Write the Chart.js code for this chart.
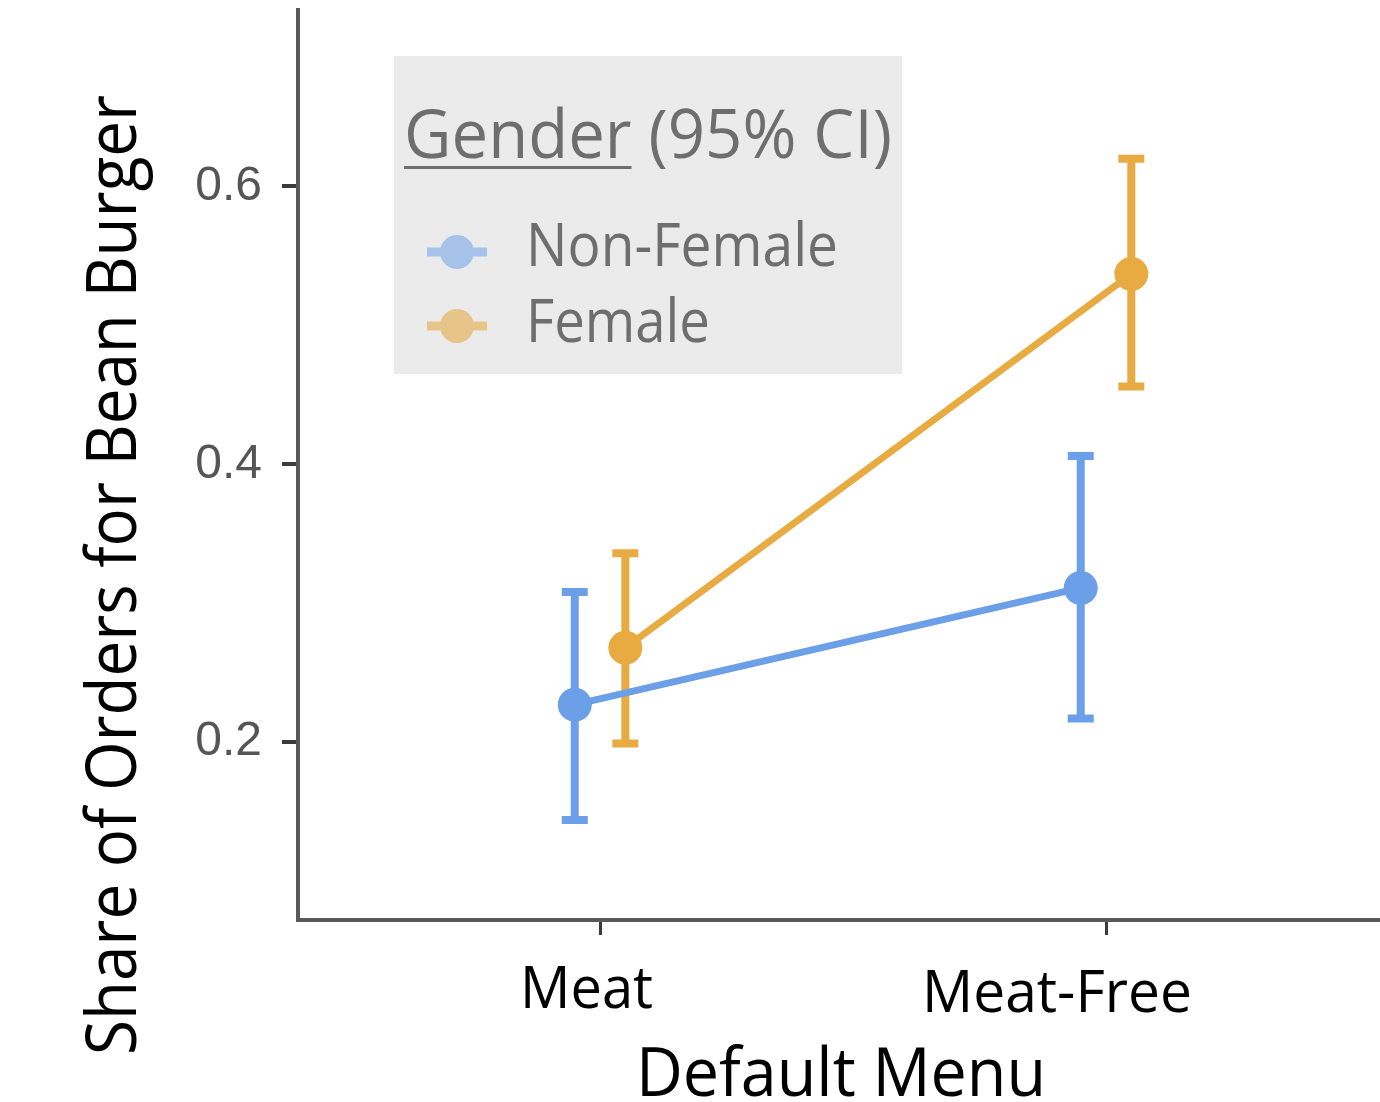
<!DOCTYPE html>
<html>
<head>
<meta charset="utf-8">
<script src="https://cdn.jsdelivr.net/npm/chart.js@4.4.0/dist/chart.umd.min.js"></script>
<style>
  html, body { margin: 0; padding: 0; background: #fff; }
</style>
</head>
<body>
<canvas id="myChart" width="1380" height="1102"></canvas>
<script>
// categories of the default menu
const menus = ['Meat', 'Meat-Free'];
const menuPos = [1, 2];

// share of orders for bean burger, with 95% CI
const nonFemaleMean = [0.227, 0.311];
const nonFemaleLow  = [0.144, 0.217];
const nonFemaleHigh = [0.308, 0.406];

const femaleMean = [0.268, 0.537];
const femaleLow  = [0.199, 0.456];
const femaleHigh = [0.336, 0.620];

const yTicks = [0.2, 0.4, 0.6];
const seriesNames = ['Non-Female', 'Female'];

const blue = '#6b9fe7';
const orange = '#e8ab42';
const blueLight = '#a7c3ea';
const orangeLight = '#e7c588';
const dodge = 0.05;

function makePoints(pos, mean, low, high, shift) {
  return pos.map((p, i) => ({ x: p + shift, y: mean[i], low: low[i], high: high[i] }));
}

// draw text squeezed/stretched to a given width
function fitText(ctx, text, x, y, width, font, color) {
  ctx.save();
  ctx.font = font;
  ctx.fillStyle = color;
  ctx.textBaseline = 'alphabetic';
  ctx.textAlign = 'left';
  const w = ctx.measureText(text).width;
  ctx.translate(x, y);
  ctx.scale(width / w, 1);
  ctx.fillText(text, 0, 0);
  ctx.restore();
}

function noPadding(s) {
  s.paddingTop = 0;
  s.paddingBottom = 0;
  s.paddingLeft = 0;
  s.paddingRight = 0;
}

const errorBars = {
  id: 'errorBars',
  beforeDatasetsDraw(chart) {
    const ctx = chart.ctx;
    const xs = chart.scales.x, ys = chart.scales.y;
    chart.data.datasets.forEach(ds => {
      ctx.save();
      ctx.strokeStyle = ds.borderColor;
      ctx.lineWidth = 8;
      ds.data.forEach(p => {
        const px = xs.getPixelForValue(p.x);
        const top = ys.getPixelForValue(p.high);
        const bot = ys.getPixelForValue(p.low);
        ctx.beginPath();
        ctx.moveTo(px, top); ctx.lineTo(px, bot);
        ctx.moveTo(px - 13, top); ctx.lineTo(px + 13, top);
        ctx.moveTo(px - 13, bot); ctx.lineTo(px + 13, bot);
        ctx.stroke();
      });
      ctx.restore();
    });
  }
};

const overlay = {
  id: 'overlay',
  afterDraw(chart) {
    const ctx = chart.ctx;
    const sans = '"Open Sans", "Noto Sans", sans-serif';

    // x category labels
    fitText(ctx, menus[0], 520, 1008, 133, '58px ' + sans, '#000');
    fitText(ctx, menus[1], 922, 1012, 270, '58px ' + sans, '#000');

    // axis titles
    fitText(ctx, 'Default Menu', 636, 1096, 410, '68px ' + sans, '#000');
    ctx.save();
    ctx.translate(136, 1055);
    ctx.rotate(-Math.PI / 2);
    fitText(ctx, 'Share of Orders for Bean Burger', 0, 0, 960, '70px ' + sans, '#000');
    ctx.restore();

    // legend box
    ctx.save();
    ctx.fillStyle = '#ebebeb';
    ctx.fillRect(394, 56, 508, 318);
    ctx.restore();
    const grey = '#6e6e6e';
    ctx.save();
    ctx.font = '68px ' + sans;
    const gW = ctx.measureText('Gender').width;
    const allW = ctx.measureText('Gender (95% CI)').width;
    ctx.restore();
    const sc = 488 / allW;
    fitText(ctx, 'Gender (95% CI)', 404, 158, 488, '68px ' + sans, grey);
    ctx.save();
    ctx.fillStyle = grey;
    ctx.fillRect(404, 166, gW * sc, 3);
    ctx.restore();

    const legendCols = [[blueLight, 252, 312], [orangeLight, 326, 184]];
    legendCols.forEach((c, i) => {
      ctx.save();
      ctx.strokeStyle = c[0];
      ctx.fillStyle = c[0];
      ctx.lineWidth = 9;
      ctx.beginPath();
      ctx.moveTo(427, c[1]); ctx.lineTo(487, c[1]);
      ctx.stroke();
      ctx.beginPath();
      ctx.arc(457, c[1], 17, 0, Math.PI * 2);
      ctx.fill();
      ctx.restore();
      fitText(ctx, seriesNames[i], 526, c[1] + 14 + (i === 0 ? 0 : 2), c[2], '60px ' + sans, grey);
    });
  }
};

const ctx = document.getElementById('myChart').getContext('2d');
const myChart = new Chart(ctx, {
  type: 'line',
  data: {
    datasets: [
      {
        label: seriesNames[0],
        data: makePoints(menuPos, nonFemaleMean, nonFemaleLow, nonFemaleHigh, -dodge),
        borderColor: blue,
        backgroundColor: blue,
        borderWidth: 7,
        pointRadius: 17,
        pointBorderWidth: 0,
        pointHoverRadius: 17
      },
      {
        label: seriesNames[1],
        data: makePoints(menuPos, femaleMean, femaleLow, femaleHigh, dodge),
        borderColor: orange,
        backgroundColor: orange,
        borderWidth: 7,
        pointRadius: 17,
        pointBorderWidth: 0,
        pointHoverRadius: 17
      }
    ]
  },
  options: {
    responsive: false,
    animation: false,
    layout: { autoPadding: false, padding: { top: 10, left: 0, right: 0, bottom: 0 } },
    plugins: {
      legend: { display: false },
      tooltip: { enabled: false }
    },
    scales: {
      x: {
        type: 'linear',
        min: 0.403,
        max: 2.5415,
        afterBuildTicks: s => { s.ticks = menuPos.map(v => ({ value: v })); },
        afterFit: s => { s.height = 182; noPadding(s); },
        ticks: { display: false },
        grid: { drawOnChartArea: false, drawTicks: true, tickLength: 15, color: '#3a3a3a', lineWidth: 3 },
        border: { color: '#5a5a5a', width: 4 }
      },
      y: {
        min: 0.072,
        max: 0.727,
        afterBuildTicks: s => { s.ticks = yTicks.map(v => ({ value: v })); },
        afterFit: s => { s.width = 298; noPadding(s); },
        ticks: {
          padding: 20,
          color: '#555555',
          font: { family: '"Liberation Sans", Arial, sans-serif', size: 48 },
          callback: v => v.toFixed(1)
        },
        grid: { drawOnChartArea: false, drawTicks: true, tickLength: 16, color: '#3a3a3a', lineWidth: 4 },
        border: { color: '#5a5a5a', width: 4 }
      }
    }
  },
  plugins: [errorBars, overlay]
});
</script>
</body>
</html>
